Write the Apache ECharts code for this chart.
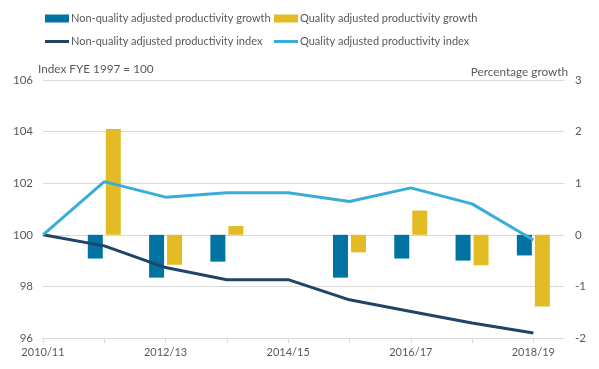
<!DOCTYPE html>
<html>
<head>
<meta charset="utf-8">
<script src="https://cdn.jsdelivr.net/npm/echarts@6/dist/echarts.min.js"></script>
<style>
html,body{margin:0;padding:0;background:#fff;}
#chart{width:599px;height:369px;}
</style>
</head>
<body>
<div id="chart"></div>
<script>
var categories = ['2010/11','2011/12','2012/13','2013/14','2014/15','2015/16','2016/17','2017/18','2018/19'];
var nonQualityGrowth = [null, -0.46, -0.83, -0.52, 0, -0.83, -0.46, -0.50, -0.40];
var qualityGrowth = [null, 2.05, -0.58, 0.17, 0, -0.34, 0.47, -0.59, -1.39];
var nonQualityIndex = [100, 99.57, 98.73, 98.26, 98.26, 97.48, 97.03, 96.58, 96.19];
var qualityIndex = [100, 102.06, 101.46, 101.63, 101.63, 101.29, 101.82, 101.2, 99.8];
var leftTicks = [96, 98, 100, 102, 104, 106];
var rightTicks = [-2, -1, 0, 1, 2, 3];
var shownLabels = ['2010/11','2012/13','2014/15','2016/17','2018/19'];

var names = ['Non-quality adjusted productivity growth','Quality adjusted productivity growth','Non-quality adjusted productivity index','Quality adjusted productivity index'];
var colors = ['#0073A3','#E2BB25','#1F4466','#39ADDA'];
var FONT = 'Lato';
var TXT = '#595959';

function pairs(arr){ return arr.map(function(v,i){ return [i, v]; }); }
// bars: drop empty and zero-height entries (nothing is drawn there)
function barPairs(arr){ return pairs(arr).filter(function(p){ return p[1] !== null && p[1] !== 0; }); }
var idx = categories.map(function(c,i){ return i; });

function legendAt(left, top, name, h){
  return {left: left, top: top, padding: 0, orient: 'vertical', itemWidth: 24, itemHeight: h, icon: 'rect',
          data: [name], textStyle: {fontFamily: FONT, fontSize: 11, color: TXT, padding: [0,0,0,-3]}};
}

var chart = echarts.init(document.getElementById('chart'), null, {renderer:'canvas'});
var option = {
  animation: false,
  textStyle: {fontFamily: FONT},
  title: [
    {text: 'Index FYE 1997 = 100', left: 33, top: 58, textStyle: {fontFamily: FONT, fontSize: 11.75, fontWeight: 'normal', color: TXT}},
    {text: 'Percentage growth', right: 26, top: 61, textStyle: {fontFamily: FONT, fontSize: 11.75, fontWeight: 'normal', color: TXT}}
  ],
  legend: [
    legendAt(45, 13, names[0], 8),
    legendAt(274, 13, names[1], 8),
    legendAt(45, 36, names[2], 3),
    legendAt(274, 36, names[3], 3)
  ],
  grid: {left: 43, right: 35, top: 80, bottom: 31, containLabel: false},
  xAxis: {
    type: 'value', min: 0, max: 8.5, interval: 1,
    splitLine: {show: false},
    axisLine: {show: true, onZero: false, lineStyle: {color: '#D9D9D9', width: 1}},
    axisTick: {show: true, length: 5, lineStyle: {color: '#D9D9D9'}, customValues: idx},
    axisLabel: {
      color: TXT, fontFamily: FONT, fontSize: 11, margin: 9,
      customValues: idx.filter(function(i){ return shownLabels.indexOf(categories[i]) >= 0; }),
      formatter: function(v){ return categories[Math.round(v)] || ''; }
    }
  },
  yAxis: [
    {type: 'value', min: leftTicks[0], max: leftTicks[leftTicks.length-1], interval: 2,
     axisLine: {show: false}, axisTick: {show: false},
     axisLabel: {color: TXT, fontFamily: FONT, fontSize: 11.5, margin: 10},
     splitLine: {show: true, lineStyle: {color: '#D9D9D9', width: 1}}},
    {type: 'value', min: rightTicks[0], max: rightTicks[rightTicks.length-1], interval: 1, position: 'right',
     axisLine: {show: false}, axisTick: {show: false},
     axisLabel: {color: TXT, fontFamily: FONT, fontSize: 11.5, margin: 11},
     splitLine: {show: false}}
  ],
  series: [
    {name: names[0], type: 'bar', yAxisIndex: 1, data: barPairs(nonQualityGrowth), barWidth: 15, barGap: '20%',
     itemStyle: {color: colors[0]}, z: 2},
    {name: names[1], type: 'bar', yAxisIndex: 1, data: barPairs(qualityGrowth), barWidth: 15, barGap: '20%',
     itemStyle: {color: colors[1]}, z: 2},
    {name: names[2], type: 'line', yAxisIndex: 0, data: pairs(nonQualityIndex), symbol: 'none',
     lineStyle: {color: colors[2], width: 3}, itemStyle: {color: colors[2]}, z: 3},
    {name: names[3], type: 'line', yAxisIndex: 0, data: pairs(qualityIndex), symbol: 'none',
     lineStyle: {color: colors[3], width: 3}, itemStyle: {color: colors[3]}, z: 3}
  ]
};
chart.setOption(option);
</script>
</body>
</html>
